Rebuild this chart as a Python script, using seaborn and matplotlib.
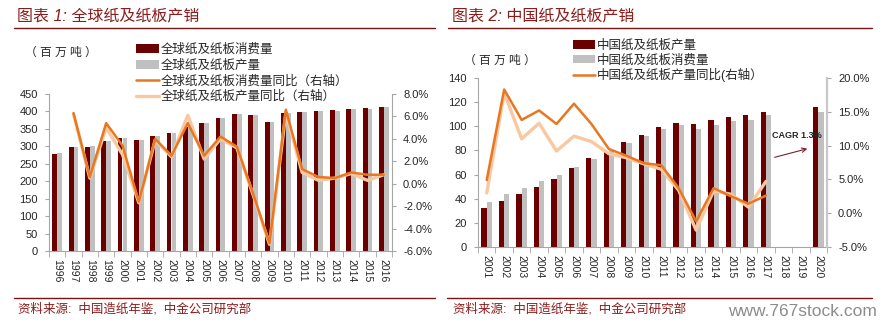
import numpy as np
import pandas as pd
import matplotlib
matplotlib.use("Agg")
import matplotlib.pyplot as plt
from matplotlib.patches import Patch, FancyArrowPatch
from matplotlib.lines import Line2D
from matplotlib.ticker import FuncFormatter
import seaborn as sns

sns.set_style("white")
plt.rcParams['font.family'] = ['Liberation Sans', 'Noto Sans CJK SC']
plt.rcParams['axes.unicode_minus'] = False

# ---------------- data: chart 1 (global) ----------------
g_years = [str(y) for y in range(1996, 2017)]
g_consumption = [279, 297, 298, 315, 323, 318, 330, 339, 355, 366, 382, 394, 391, 371, 395, 399, 401, 403, 408, 411, 414]
g_production = [281, 299, 300, 316, 323, 318, 331, 339, 356, 366, 382, 394, 390, 370, 395, 398, 400, 402, 407, 408, 412]
g_line_years = [str(y) for y in range(1997, 2017)]
g_cons_yoy = [6.3, 0.6, 5.4, 3.4, -1.6, 4.0, 2.5, 5.4, 2.5, 4.2, 3.3, -0.9, -5.3, 6.6, 1.3, 0.6, 0.5, 1.0, 0.8, 0.8]
g_prod_yoy = [6.2, 0.5, 5.0, 2.6, -1.7, 3.9, 2.4, 6.1, 2.2, 4.0, 3.2, -1.0, -5.4, 6.3, 1.0, 0.3, 0.5, 0.9, 0.3, 0.8]

# ---------------- data: chart 2 (China) ----------------
c_years = [str(y) for y in range(2001, 2021)]
c_bar_years = [str(y) for y in range(2001, 2018)] + ['2020']
c_production = [32.4, 38.0, 43.5, 49.9, 56.6, 65.4, 73.7, 79.0, 87.0, 93.1, 99.8, 103.1, 101.7, 105.3, 107.6, 109.0, 112.0, 115.9]
c_consumption = [37.1, 43.8, 48.8, 54.6, 59.6, 66.3, 73.2, 79.8, 86.2, 92.0, 97.9, 100.9, 98.1, 101.2, 104.0, 104.8, 109.5, 111.5]
c_line_years = [str(y) for y in range(2001, 2018)]
c_prod_yoy = [4.9, 18.3, 13.8, 15.2, 13.2, 16.2, 13.2, 9.5, 8.5, 7.4, 7.1, 3.7, -1.2, 3.7, 2.5, 1.4, 2.6]
c_cons_yoy = [3.0, 17.8, 11.0, 13.3, 9.2, 11.4, 10.6, 8.8, 8.2, 7.3, 6.5, 3.4, -2.5, 3.3, 2.8, 0.9, 4.7]

DARK = '#6B0000'
GRAY = '#C0C0C0'
ORANGE = '#E87722'
LIGHT = '#FAC8A0'
SPINE = '#A6A6A6'
RED_TXT = '#8B1C1C'

W, H = 884, 326
fig = plt.figure(figsize=(W / 100, H / 100), dpi=100)


def rect(x0, y0, x1, y1):
    return [x0 / W, 1 - y1 / H, (x1 - x0) / W, (y1 - y0) / H]


def style_axes(ax, ax2, right_spine_color=SPINE, right_lw=0.8):
    ax.spines['top'].set_visible(False)
    ax2.spines['top'].set_visible(False)
    ax.spines['right'].set_visible(False)
    ax2.spines['left'].set_visible(False)
    ax2.spines['bottom'].set_visible(False)
    for s in ['left', 'bottom']:
        ax.spines[s].set_color(SPINE)
        ax.spines[s].set_linewidth(0.8)
    ax2.spines['right'].set_color(right_spine_color)
    ax2.spines['right'].set_linewidth(right_lw)
    ax.tick_params(axis='y', length=3, color=SPINE, labelsize=8, pad=5, left=True)
    ax2.tick_params(axis='y', length=3, color=SPINE, labelsize=8, pad=5, right=True)
    ax.tick_params(axis='x', which='major', length=0, labelsize=7.5, pad=6, rotation=-90, bottom=True)
    ax.tick_params(axis='x', which='minor', length=4, color=SPINE, bottom=True)
    ax.set_xlabel('')
    ax.set_ylabel('')
    ax2.set_ylabel('')
    ax.grid(False)
    ax2.grid(False)


def draw_panel(ax, years, bar_years, s1, s2, n1, n2, line_years, l_dark, l_light, ylim, ystep, y2lim, y2step):
    df = pd.DataFrame({
        'year': bar_years * 2,
        'value': list(s1) + list(s2),
        'series': [n1] * len(bar_years) + [n2] * len(bar_years),
    })
    sns.barplot(data=df, x='year', y='value', hue='series', order=years, hue_order=[n1, n2],
                palette=[DARK, GRAY], width=0.6, saturation=1, linewidth=0, legend=False, ax=ax)
    n = len(years)
    ax.set_xlim(-0.5, n - 0.5)
    ax.set_ylim(*ylim)
    ax.set_yticks(np.arange(ylim[0], ylim[1] + 0.001, ystep))
    ax.set_xticks(np.arange(-0.5, n, 1.0), minor=True)
    ax2 = ax.twinx()
    xpos = [years.index(y) for y in line_years]
    sns.lineplot(x=xpos, y=l_light, ax=ax2, color=LIGHT, linewidth=2.4, sort=False)
    sns.lineplot(x=xpos, y=l_dark, ax=ax2, color=ORANGE, linewidth=1.8, sort=False)
    ax2.set_ylim(*y2lim)
    ax2.set_yticks(np.arange(y2lim[0], y2lim[1] + 0.001, y2step))
    ax2.yaxis.set_major_formatter(FuncFormatter(lambda v, p: f"{v:.1f}%"))
    ax2.set_xlim(-0.5, n - 0.5)
    return ax2


# ---------------- left panel ----------------
axL = fig.add_axes(rect(49, 94, 392, 251))
axL2 = draw_panel(axL, g_years, g_years, g_consumption, g_production, 'cons', 'prod',
                  g_line_years, g_cons_yoy, g_prod_yoy, (0, 450), 50, (-6, 8), 2)
style_axes(axL, axL2)

# ---------------- right panel ----------------
axR = fig.add_axes(rect(478, 78, 827, 247))
axR2 = draw_panel(axR, c_years, c_bar_years, c_production, c_consumption, 'prod', 'cons',
                  c_line_years, c_prod_yoy, c_cons_yoy, (0, 140), 20, (-5, 20), 5)
style_axes(axR, axR2, right_spine_color='#C8C8C8', right_lw=1.6)

# CAGR annotation
ann = fig.add_artist(FancyArrowPatch(
    (772 / W, 1 - 158 / H), (810 / W, 1 - 148 / H), transform=fig.transFigure,
    arrowstyle='->', mutation_scale=8, color='#7A1F2B', lw=0.8))
ann.set_zorder(10)
t = fig.text(772 / W, 1 - 135 / H, 'CAGR 1.3%', fontsize=6.5, fontweight='bold', va='center', ha='left')
t.set_zorder(10)

# ---------------- titles, rules, units ----------------
fig.text(17 / W, 1 - 16 / H, '图表 1: 全球纸及纸板产销', fontsize=11.5, color=RED_TXT, va='center', ha='left', style='italic')
fig.text(452 / W, 1 - 16 / H, '图表 2: 中国纸及纸板产销', fontsize=11.5, color=RED_TXT, va='center', ha='left', style='italic')
for x0, x1 in [(14, 435), (448, 872)]:
    fig.add_artist(Line2D([x0 / W, x1 / W], [1 - 28 / H, 1 - 28 / H], color='#7A1414', lw=1.0))
for x0, x1 in [(14, 435), (447, 872)]:
    fig.add_artist(Line2D([x0 / W, x1 / W], [1 - 298 / H, 1 - 298 / H], color='#7A1414', lw=1.0))
fig.text(18 / W, 1 - 309 / H, '资料来源:  中国造纸年鉴,  中金公司研究部', fontsize=9, color=RED_TXT, va='center', ha='left')
fig.text(453 / W, 1 - 309 / H, '资料来源:  中国造纸年鉴,  中金公司研究部', fontsize=9, color=RED_TXT, va='center', ha='left')
fig.text(877 / W, 1 - 311 / H, 'www.767stock.com', fontsize=12.5, color='#8C8C8C', va='center', ha='right')

fig.text(25 / W, 1 - 53 / H, '（ 百 万 吨 ）', fontsize=8.5, va='center', ha='left')
fig.text(464 / W, 1 - 61 / H, '（ 百 万 吨 ）', fontsize=8.5, va='center', ha='left')

# ---------------- legends ----------------
hL = [Patch(facecolor=DARK, edgecolor='none'), Patch(facecolor=GRAY, edgecolor='none'),
      Line2D([], [], color=ORANGE, lw=1.8), Line2D([], [], color=LIGHT, lw=2.4)]
lL = ['全球纸及纸板消费量', '全球纸及纸板产量', '全球纸及纸板消费量同比（右轴）', '全球纸及纸板产量同比（右轴）']
fig.legend(hL, lL, loc='upper left', bbox_to_anchor=(136 / W, 1 - 44 / H), frameon=False,
           fontsize=9, handlelength=1.85, handleheight=0.7, handletextpad=0.15, labelspacing=0.27,
           borderpad=0, borderaxespad=0)
hR = [Patch(facecolor=DARK, edgecolor='none'), Patch(facecolor=GRAY, edgecolor='none'),
      Line2D([], [], color=ORANGE, lw=1.8)]
lR = ['中国纸及纸板产量', '中国纸及纸板消费量', '中国纸及纸板产量同比(右轴）']
fig.legend(hR, lR, loc='upper left', bbox_to_anchor=(573 / W, 1 - 40 / H), frameon=False,
           fontsize=9, handlelength=1.75, handleheight=0.7, handletextpad=0.15, labelspacing=0.16,
           borderpad=0, borderaxespad=0)

fig.savefig('out.png', dpi=100)
